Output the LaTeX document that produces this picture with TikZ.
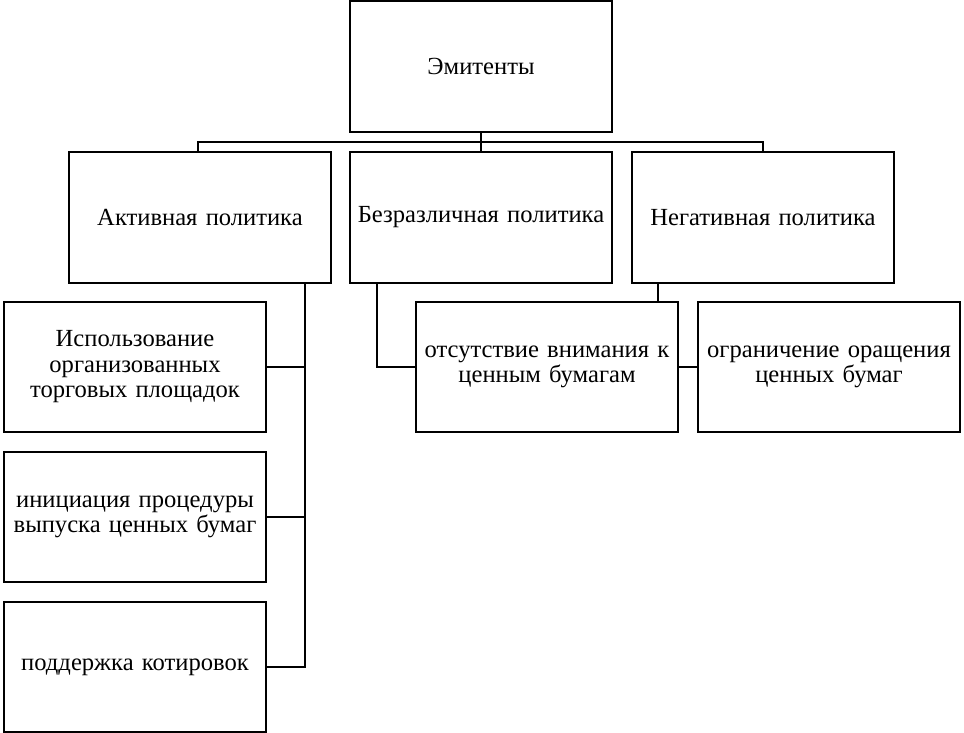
\documentclass[tikz,border=0pt]{standalone}
\usepackage{fontspec}
\setmainfont{Liberation Serif}
\begin{document}
\begin{tikzpicture}[x=1pt,y=-1pt,
  box/.style={draw, line width=1.5pt, minimum width=262pt, minimum height=131pt, inner sep=1pt, align=center, text width=258pt,
    font=\fontsize{24.6}{25.5}\selectfont},
  conn/.style={line width=1.5pt}]
\useasboundingbox (0,0) rectangle (964,733);
\node[box] (em) at (481,66.5) {Эмитенты};
\node[box] (act) at (200,217.5) {Активная политика};
\node[box] (bez) at (481,217.5) {Безразличная политика};
\node[box] (neg) at (763,217.5) {Негативная политика};
\node[box, minimum height=130pt] (u1) at (135,367) {Использование\\организованных\\торговых площадок};
\node[box, minimum height=130pt] (u2) at (135,517) {инициация процедуры\\выпуска ценных бумаг};
\node[box, minimum height=130pt] (u3) at (135,667) {поддержка котировок};
\node[box, minimum height=130pt] (o1) at (547,367) {отсутствие внимания к\\ценным бумагам};
\node[box, minimum height=130pt] (o2) at (829,367) {ограничение оращения\\ценных бумаг};
\coordinate (j) at (481,142);
\coordinate (lx) at (305,0);
\coordinate (bx) at (377,0);
\coordinate (nx) at (658,0);
\draw[conn] (em.south) -- (bez.north);
\draw[conn] (act.north -| 198,0) |- (j) -| (neg.north);
\draw[conn] (act.south -| lx) |- (u3.east);
\draw[conn] (u1.east) -- (u1.east -| lx);
\draw[conn] (u2.east) -- (u2.east -| lx);
\draw[conn] (bez.south -| bx) |- (o1.west);
\draw[conn] (neg.south -| nx) -- (o1.north -| nx);
\draw[conn] (o1.east) -- (o2.west);
\end{tikzpicture}
\end{document}
